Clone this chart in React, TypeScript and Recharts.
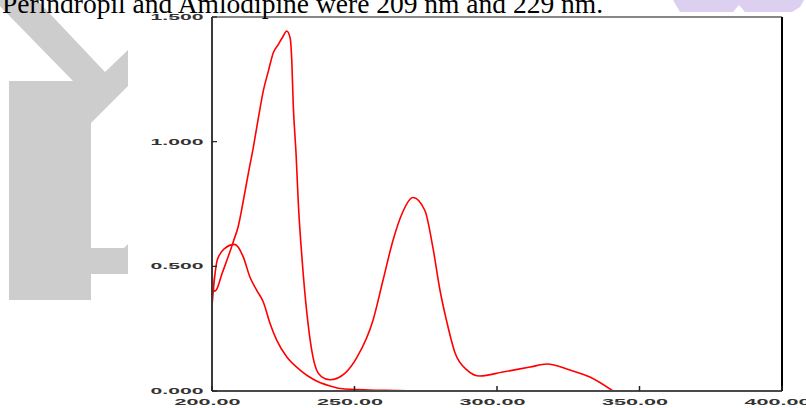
import { LineChart, Line, XAxis, YAxis } from "recharts";

const captionText = "Perindropil and Amlodipine were 209 nm and 229 nm.";

const xTicks = [200, 250, 300, 350, 400];
const yTicks = [0, 0.5, 1, 1.5];

// spectrum with the tall band (peaks ~226, ~271, ~318 nm)
const nmA = [
  200, 200.7, 201.5, 203.5, 205.6, 207.5, 209.2, 211, 212.7, 214.5, 216.3, 218,
  219.8, 221.5, 223.3, 225, 226.2, 227.4, 228, 228.5, 229.5, 230.3, 231.1, 232,
  233.7, 235.2, 236.7, 238.5, 241.4, 246.7, 250.9, 256.5, 260, 263.5, 266.7,
  270.5, 274.7, 277.5, 280, 282.5, 285.3, 289.5, 294, 302, 311.6, 317.5, 325.6,
  332.6, 340.7,
];
const absA = [
  0.48, 0.4, 0.405, 0.47, 0.536, 0.6, 0.66, 0.764, 0.87, 0.977, 1.097, 1.204,
  1.284, 1.357, 1.39, 1.424, 1.444, 1.417, 1.324, 1.15, 0.95, 0.75, 0.604, 0.47,
  0.27, 0.15, 0.084, 0.057, 0.045, 0.072, 0.136, 0.284, 0.444, 0.604, 0.712,
  0.776, 0.724, 0.576, 0.404, 0.272, 0.152, 0.084, 0.06, 0.076, 0.096, 0.108,
  0.084, 0.056, 0,
];

// spectrum with the single band near 208 nm
const nmB = [
  200, 200.6, 201.9, 204.5, 207.9, 211, 213.3, 215.7, 218, 220.4, 222.7, 226.2,
  230.9, 235.5, 241.4, 245, 255, 265, 272,
];
const absB = [
  0.34, 0.42, 0.527, 0.572, 0.588, 0.537, 0.457, 0.404, 0.357, 0.27, 0.204,
  0.137, 0.084, 0.047, 0.02, 0.01, 0.004, 0.002, 0,
];

const specA = nmA.map((nm, i) => ({ nm, abs: absA[i] }));
const specB = nmB.map((nm, i) => ({ nm, abs: absB[i] }));

const labelFont = "'Liberation Sans', Arial, sans-serif";

function BottomTick({ x, y, payload }: any) {
  return (
    <g>
      <line x1={x} y1={y} x2={x} y2={y - 5} stroke="#222" strokeWidth={1.5} />
      <text
        x={x - 4.5}
        y={y + 14}
        textAnchor="middle"
        fontFamily={labelFont}
        fontSize={9}
        fontWeight="bold"
        fill="#333"
        textLength={66}
        lengthAdjust="spacingAndGlyphs"
      >
        {Number(payload.value).toFixed(2)}
      </text>
    </g>
  );
}

function LeftTick({ x, y, payload }: any) {
  return (
    <g>
      <line x1={x} y1={y} x2={x + 5} y2={y} stroke="#222" strokeWidth={1.2} />
      <text
        x={x - 8.5}
        y={y + 3}
        textAnchor="end"
        fontFamily={labelFont}
        fontSize={8.5}
        fontWeight="bold"
        fill="#333"
        textLength={53}
        lengthAdjust="spacingAndGlyphs"
      >
        {Number(payload.value).toFixed(3)}
      </text>
    </g>
  );
}

function TopTick({ x, y }: any) {
  return <line x1={x} y1={y} x2={x} y2={y + 5} stroke="#222" strokeWidth={1.5} />;
}

function RightTick({ x, y }: any) {
  return <line x1={x} y1={y} x2={x - 5} y2={y} stroke="#222" strokeWidth={1.2} />;
}

export default function App() {
  return (
    <div
      style={{
        position: "fixed",
        left: 0,
        top: 0,
        width: 806,
        height: 408,
        overflow: "hidden",
        background: "#fff",
      }}
    >
      {/* page watermarks behind the figure */}
      <svg width={806} height={408} style={{ position: "absolute", left: 0, top: 0 }}>
        <polygon
          points="9,300 9,81 73,81 -6,0 37,0 105,72 128,50 128,86 91,123 91,248 124,248 128,244 128,274 91,274 91,300"
          fill="#cdcdcd"
        />
        <polygon
          points="673,0 804,0 800,7 792,12 745,12 739,5 733,12 680,12"
          fill="#dccff0"
        />
      </svg>
      <div
        style={{
          position: "absolute",
          left: 128,
          top: 14,
          width: 678,
          height: 394,
          background: "#fff",
        }}
      />
      <svg width={806} height={30} style={{ position: "absolute", left: 0, top: 0 }}>
        <text
          x={2}
          y={13}
          fontFamily="'Liberation Serif', 'Times New Roman', serif"
          fontSize={27.5}
          fill="#000"
        >
          {captionText}
        </text>
      </svg>
      <div style={{ position: "absolute", left: 0, top: 0 }}>
        <LineChart
          width={806}
          height={408}
          margin={{ top: 16, right: 23, bottom: 0, left: 152 }}
        >
          <XAxis
            dataKey="nm"
            type="number"
            domain={[200, 400]}
            ticks={xTicks}
            interval={0}
            height={17}
            tickSize={0}
            tickMargin={0}
            tick={BottomTick}
            tickLine={false}
            axisLine={{ stroke: "#4a4a4a", strokeWidth: 2 }}
            allowDataOverflow
          />
          <XAxis
            xAxisId="top"
            orientation="top"
            dataKey="nm"
            type="number"
            domain={[200, 400]}
            ticks={xTicks}
            interval={0}
            height={1}
            tickSize={0}
            tickMargin={0}
            tick={TopTick}
            tickLine={false}
            axisLine={{ stroke: "#111", strokeWidth: 1.2 }}
          />
          <YAxis
            type="number"
            domain={[0, 1.5]}
            ticks={yTicks}
            interval={0}
            width={60}
            tickSize={0}
            tickMargin={0}
            tick={LeftTick}
            tickLine={false}
            axisLine={{ stroke: "#3a3a3a", strokeWidth: 2 }}
            allowDataOverflow
          />
          <YAxis
            yAxisId="right"
            orientation="right"
            type="number"
            domain={[0, 1.5]}
            ticks={yTicks}
            interval={0}
            width={1}
            tickSize={0}
            tickMargin={0}
            tick={RightTick}
            tickLine={false}
            axisLine={{ stroke: "#000", strokeWidth: 2 }}
          />
          <Line
            data={specB}
            dataKey="abs"
            type="monotone"
            stroke="#ff0000"
            strokeWidth={1.6}
            dot={false}
            isAnimationActive={false}
          />
          <Line
            data={specA}
            dataKey="abs"
            type="monotone"
            stroke="#ff0000"
            strokeWidth={1.6}
            dot={false}
            isAnimationActive={false}
          />
        </LineChart>
      </div>
    </div>
  );
}
